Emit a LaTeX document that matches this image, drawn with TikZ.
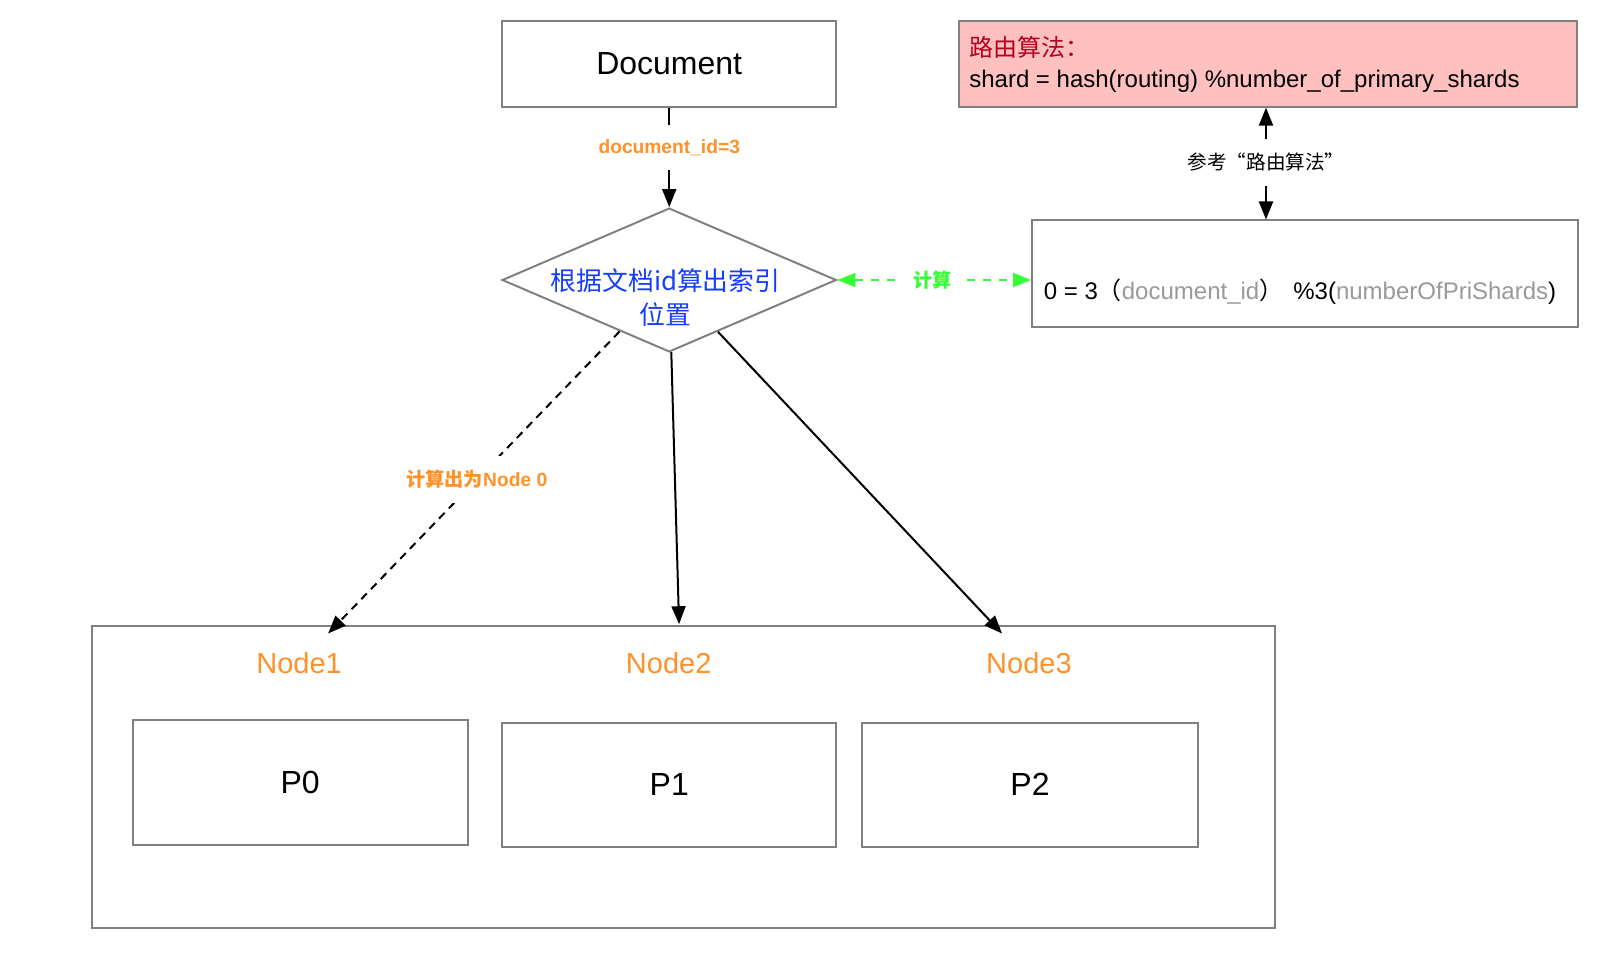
\documentclass[tikz,border=0pt]{standalone}
\usepackage{fontspec}
\setmainfont{Liberation Sans}
\newfontfamily\cjk{Noto Sans CJK SC}
\usetikzlibrary{arrows.meta,shapes.geometric}
\definecolor{bgray}{RGB}{128,128,128}
\definecolor{lorange}{RGB}{255,145,40}
\definecolor{lgreen}{RGB}{51,255,51}
\definecolor{lblue}{RGB}{20,60,255}
\definecolor{lred}{RGB}{180,0,30}
\definecolor{lpink}{RGB}{255,192,192}
\definecolor{tgray}{RGB}{153,153,153}
\def\pxu{0.5175}
\tikzset{
  box/.style={draw=bgray, line width=1pt, rectangle, inner sep=0pt},
  conn/.style={line width=1pt, -{Triangle[length=9pt,width=7pt]}},
  dconn/.style={line width=1pt, {Triangle[length=9pt,width=7pt]}-{Triangle[length=9pt,width=7pt]}},
  lbl/.style={fill=white, inner xsep=6pt, inner ysep=7pt, font=\fontsize{9.6}{11}\selectfont\bfseries},
  bigtxt/.style={font=\fontsize{16}{19}\selectfont},
  nodetxt/.style={font=\fontsize{14.5}{17}\selectfont, text=lorange},
}
\begin{document}
\begin{tikzpicture}[x=0.5175pt,y=-0.5175pt]
\useasboundingbox (0,0) rectangle (1565,945);
% top boxes
\node[box, bigtxt, minimum width={323*\pxu*1pt}, minimum height={83*\pxu*1pt}] (doc) at (646.5,61.5) {Document};
\node[box, fill=lpink, minimum width={597*\pxu*1pt}, minimum height={83*\pxu*1pt}] (pink) at (1224.5,61.5) {};
\node[anchor=west, align=left, inner sep=0pt, font=\fontsize{12}{15.5}\selectfont] (pinkt) at (936,62)
  {{\cjk\color{lred}路由算法：}\\shard = hash(routing) \%number\_of\_primary\_shards};
% diamond
\node[draw=bgray, line width=1pt, diamond, inner sep=0pt, minimum width={323*\pxu*1pt}, minimum height={139*\pxu*1pt}] (d) at (646.5,270.5) {};
\node[align=center, text=lblue, font=\cjk\fontsize{12.9}{17}\selectfont] (dt) at (643,287) {根据文档id算出索引\\位置};
% right box
\node[box, minimum width={527*\pxu*1pt}, minimum height={103*\pxu*1pt}] (rb) at (1260.5,264.5) {};
\node[anchor=west, inner sep=0pt, font=\fontsize{12}{14}\selectfont] (rbt) at (1008,282)
  {0 = 3{\cjk （}\textcolor{tgray}{document\_id}{\cjk ）}\hspace{5pt}\%3(\textcolor{tgray}{numberOfPriShards})};
% container
\node[box, minimum width={1143*\pxu*1pt}, minimum height={291*\pxu*1pt}] (cont) at (660.5,750.5) {};
\node[nodetxt] (n1) at (289,641) {Node1};
\node[nodetxt] (n2) at (646,641) {Node2};
\node[nodetxt] (n3) at (994,641) {Node3};
\node[box, bigtxt, minimum width={324*\pxu*1pt}, minimum height={120*\pxu*1pt}] (p0) at (290,756) {P0};
\node[box, bigtxt, minimum width={323*\pxu*1pt}, minimum height={120*\pxu*1pt}] (p1) at (646.5,758) {P1};
\node[box, bigtxt, minimum width={324*\pxu*1pt}, minimum height={120*\pxu*1pt}] (p2) at (995,758) {P2};
% connector endpoints
\coordinate (e0) at (317,612);
\coordinate (e1) at (656,603);
\coordinate (e2) at (968,612);
\coordinate (vx) at (1223,0);
% connectors
\draw[conn] (doc.south) -- node[lbl, text=lorange, pos=0.4] {document\_id=3} (d.north);
\draw[dconn, lgreen, dash pattern=on 4pt off 4pt] (d.east) -- node[lbl, inner ysep=3pt, text=lgreen, pos=0.49] {\cjk 计算} (d.east -| rb.west);
\draw[dconn] (vx |- pink.south) -- node[lbl, font=\cjk\fontsize{9.8}{11}\selectfont, pos=0.49] {参考“路由算法”} (vx |- rb.north);
\draw[conn, dash pattern=on 4pt off 3pt] (d) -- node[lbl, text=lorange, pos=0.49] {{\cjk 计算出为}Node 0} (e0);
\draw[conn] (d) -- (e1);
\draw[conn] (d) -- (e2);
\end{tikzpicture}
\end{document}
